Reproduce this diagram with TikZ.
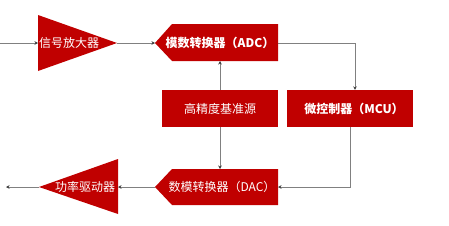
\documentclass[tikz,border=0pt]{standalone}
\usepackage{fontspec}
\setmainfont{Noto Sans CJK SC}
\usetikzlibrary{positioning,arrows.meta,calc}
\definecolor{BlkRed}{HTML}{C00000}
\definecolor{LineGray}{HTML}{808080}

\begin{document}
\begin{tikzpicture}[x=1pt, y=-1pt,
    blk/.style={fill=BlkRed, draw=none},
    box/.style={fill=BlkRed, text=white, minimum height=37pt,
                inner sep=0pt, align=center, font=\fontsize{12}{14}\selectfont},
    lbl/.style={text=white, inner sep=0pt, font=\fontsize{12}{14}\selectfont},
    ar/.style={-{Stealth[length=3.5pt,width=3.5pt,color=black!75]},
               draw=LineGray, line width=0.9pt},
  ]
    \useasboundingbox (0,0) rectangle (449,225);

    % ── Row 1: input → amplifier → ADC ──────────────────────────────────
    \coordinate (in)    at (0,43);
    \coordinate (ampW)  at (38,43);
    \coordinate (ampE)  at (117,43);
    \fill[blk] (38,15) -- (ampE) -- (38,71) -- cycle;
    \node[lbl] (amp) at (69,43) {信号放大器};

    \coordinate (adcW)  at (155,43);
    \coordinate (adcE)  at (278,43);
    \coordinate (adcS)  at (220,61);
    \fill[blk] (adcW) -- (172,24) -- (278,24) -- (278,61) -- (172,61) -- cycle;
    \node[lbl, font=\fontsize{12}{14}\selectfont\bfseries] (adc) at (220,43)
      {模数转换器（ADC）};

    % ── Row 2: reference and MCU ────────────────────────────────────────
    \node[box, minimum width=116pt] (ref) at (220,108.5) {高精度基准源};
    \node[box, minimum width=126pt,
          font=\fontsize{12}{14}\selectfont\bfseries] (mcu) at (350,108.5)
      {\hspace*{8pt}微控制器（MCU）};

    % ── Row 3: DAC → power driver → output ──────────────────────────────
    \coordinate (dacW)  at (155,187);
    \coordinate (dacE)  at (278,187);
    \coordinate (dacN)  at (220,169);
    \fill[blk] (dacW) -- (172,169) -- (278,169) -- (278,205) -- (172,205) -- cycle;
    \node[lbl] (dac) at (222,187) {数模转换器（DAC）};

    \coordinate (drvE)  at (118,187);
    \coordinate (drvW)  at (39,187);
    \fill[blk] (118,159) -- (drvW) -- (118,214) -- cycle;
    \node[lbl] (drv) at (85,187) {功率驱动器};
    \coordinate (out)   at (6,187);

    % ── Arrows ──────────────────────────────────────────────────────────
    \foreach \a/\b in {in/ampW, ampE/adcW, ref/adcS, ref/dacN,
                       dacW/drvE, drvW/out}
      \draw[ar] (\a) -- (\b);

    \draw[ar] (adcE) -| ([xshift=5pt]mcu.north);
    \draw[ar] (mcu.south) |- (dacE);
\end{tikzpicture}
\end{document}
